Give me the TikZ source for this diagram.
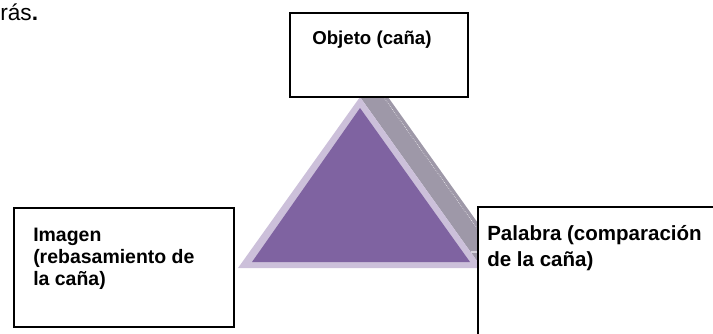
\documentclass[tikz,border=0pt]{standalone}
\usepackage{fontspec}
\setmainfont{Liberation Sans}
\definecolor{darkpurple}{RGB}{127,99,161}
\definecolor{lightpurple}{RGB}{204,192,218}
\definecolor{shadowgray}{RGB}{158,152,168}
\definecolor{stripgray}{RGB}{214,210,220}
\begin{document}
\begin{tikzpicture}[x=0.75pt,y=-0.75pt,
  box/.style={draw=black, line width=1.35pt, fill=white, inner sep=0pt, anchor=north west},
  label/.style={anchor=base west, inner sep=0pt, align=left},
  boxfont/.style={font=\bfseries\fontsize{14.6}{16.5}\selectfont}]
\useasboundingbox (0,0) rectangle (713,333);
% cut-off sentence end
\node[anchor=base west, inner sep=0pt, font=\fontsize{17}{18}\selectfont] (ras) at (0,20) {rás\textbf{.}};
% shadow (back face) of the triangle
\coordinate (fa) at (360,97);
\coordinate (fr) at (482,268);
\coordinate (fl) at (238,268);
\coordinate (ba) at (378,83);
\coordinate (br) at (500,254);
\fill[shadowgray] (fa) -- (ba) -- (br) -- (fr) -- cycle;
\draw[white, line width=0.4pt, densely dotted] (375,85) -- (494,252);
\draw[stripgray, line width=0.9pt] (471,252) -- (500,252);
% triangle
\fill[lightpurple] (fa) -- (fr) -- (fl) -- cycle;
\fill[darkpurple] (360,108) -- (470,262) -- (252,262) -- cycle;
% boxes
\node[box, minimum width=133.5pt, minimum height=63pt] (objeto) at (289,12) {};
\node[box, minimum width=165pt, minimum height=89.25pt] (imagen) at (13,207) {};
\node[box, minimum width=187.5pt, minimum height=105pt] (palabra) at (477,206) {};
% texts (base anchor = baseline of the last line)
\node[label, font=\bfseries\fontsize{14}{16.5}\selectfont] (objetotext) at (312,44) {Objeto (caña)};
\node[label, boxfont] (imagentext) at (33,285) {Imagen\\(rebasamiento de\\la caña)};
\node[label, font=\bfseries\fontsize{15.4}{19.5}\selectfont] (palabratext) at (487,266) {Palabra (comparación\\de la caña)};
\end{tikzpicture}
\end{document}
